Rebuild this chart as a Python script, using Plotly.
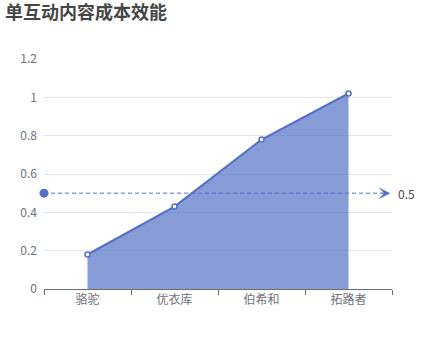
import plotly.graph_objects as go

categories = ["骆驼", "优衣库", "伯希和", "拓路者"]
values = [0.18, 0.43, 0.78, 1.02]
mark_value = 0.5
title_text = "单互动内容成本效能"

blue = "#5470c6"
font_family = "Noto Sans CJK SC, Microsoft YaHei, sans-serif"

fig = go.Figure()
fig.add_trace(go.Scatter(
    x=categories, y=values, mode="lines+markers",
    line=dict(color=blue, width=2),
    fill="tozeroy", fillcolor="rgba(84,112,198,0.7)",
    marker=dict(symbol="circle", size=5, color="white",
                line=dict(color=blue, width=1.5)),
    hoverinfo="skip", showlegend=False,
))

# mark line (dashed), start circle, end arrow, label
fig.add_shape(type="line", xref="paper", yref="y", x0=0, x1=0.975,
              y0=mark_value, y1=mark_value,
              line=dict(color=blue, width=1, dash="4px,3px"))
fig.add_shape(type="circle", xref="paper", yref="y",
              xsizemode="pixel", ysizemode="pixel",
              xanchor=0, yanchor=mark_value,
              x0=-4.5, x1=4.5, y0=-4.5, y1=4.5,
              fillcolor=blue, line=dict(color=blue, width=0))
fig.add_annotation(xref="paper", yref="y", x=0.995, y=mark_value,
                   axref="pixel", ayref="pixel", ax=-10, ay=0,
                   showarrow=True, arrowhead=3, arrowsize=2, arrowwidth=1,
                   arrowcolor=blue, text="")
fig.add_annotation(xref="paper", yref="y", x=1, y=mark_value,
                   xanchor="left", yanchor="middle", xshift=4,
                   showarrow=False, text=str(mark_value),
                   font=dict(size=12, color="#464646", family=font_family))

fig.update_layout(
    width=435, height=360,
    margin=dict(l=44, r=43, t=59, b=71),
    paper_bgcolor="white", plot_bgcolor="white",
    font=dict(family=font_family, size=12, color="#6e7079"),
    title=dict(text="<b>" + title_text + "</b>", xref="container", yref="container",
               x=5/435, xanchor="left", y=1 - 6/360, yanchor="top",
               font=dict(size=18, color="#464646", family=font_family)),
    xaxis=dict(type="category", range=[-0.5, 3.5], showgrid=False,
               showline=True, linecolor="#6e7079", linewidth=1,
               ticks="outside", ticklen=5, tickcolor="#6e7079",
               tickson="boundaries", zeroline=False,
               tickfont=dict(size=12, color="#6e7079")),
    yaxis=dict(range=[0, 1.2], dtick=0.2, tick0=0, showgrid=True,
               gridcolor="#e0e6f1", gridwidth=1, zeroline=False,
               showline=False, ticks="", ticklabelstandoff=6,
               tickfont=dict(size=12, color="#6e7079")),
)

fig.write_html("out.html")
